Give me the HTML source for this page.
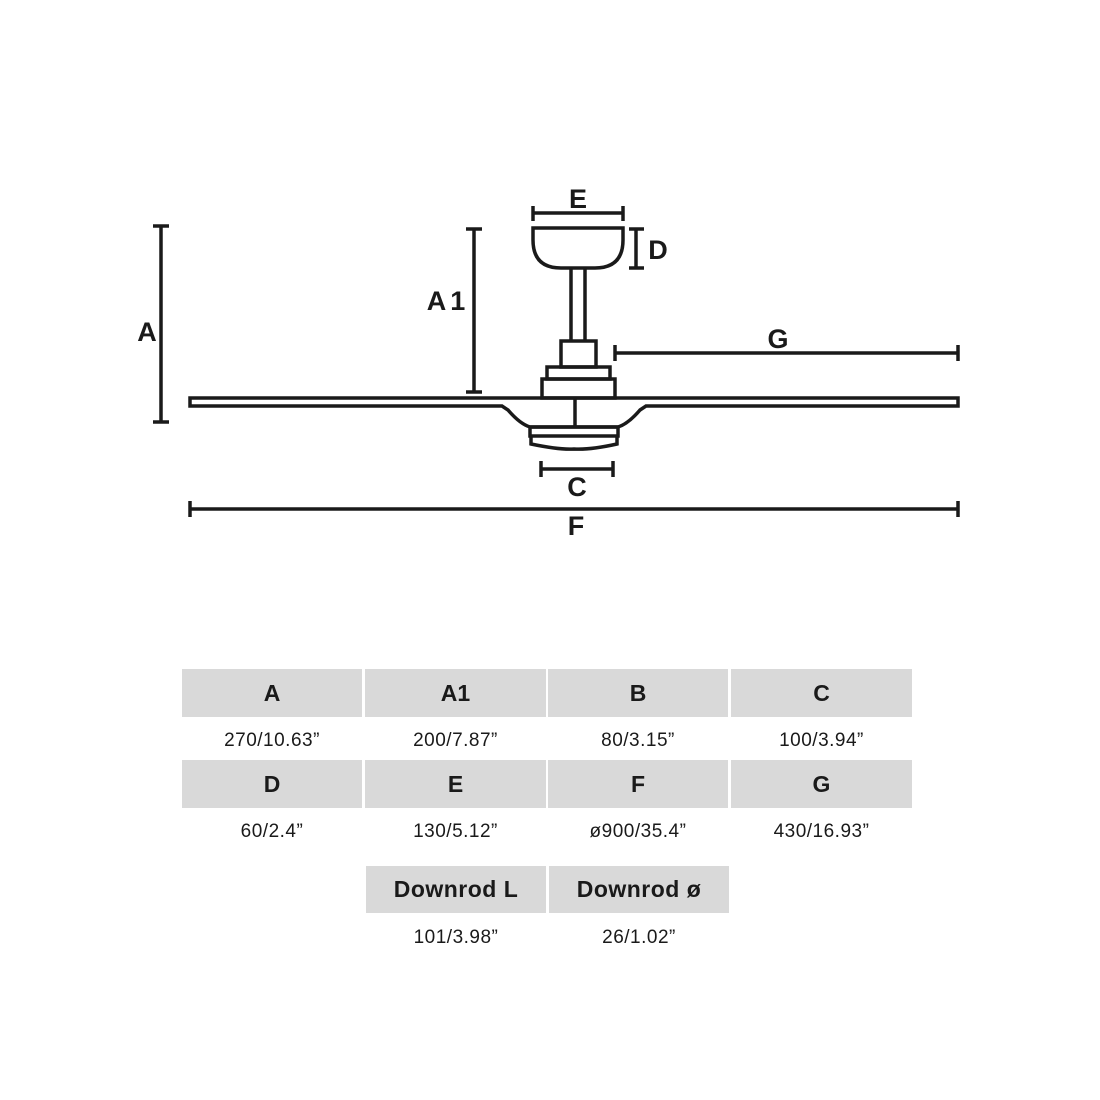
<!DOCTYPE html>
<html><head><meta charset="utf-8"><style>
html,body{margin:0;padding:0;background:#fff;}
body{width:1100px;height:1100px;position:relative;overflow:hidden;font-family:"Liberation Sans",sans-serif;color:#1a1a1a;}
.h{position:absolute;background:#d9d9d9;font-weight:bold;font-size:23px;display:flex;align-items:center;justify-content:center;}
.v{position:absolute;font-size:19px;display:flex;align-items:center;justify-content:center;height:30px;letter-spacing:0.5px;}
svg{position:absolute;left:0;top:0;}
</style></head><body>
<svg width="1100" height="600" viewBox="0 0 1100 600" fill="none" stroke="#1a1a1a" stroke-width="3.5">
<!-- A -->
<line x1="161" y1="226" x2="161" y2="422"/><line x1="153" y1="226" x2="169" y2="226"/><line x1="153" y1="422" x2="169" y2="422"/>
<!-- A1 -->
<line x1="474" y1="229" x2="474" y2="392"/><line x1="466" y1="229" x2="482" y2="229"/><line x1="466" y1="392" x2="482" y2="392"/>
<!-- E -->
<line x1="533" y1="213" x2="623" y2="213"/><line x1="533" y1="206" x2="533" y2="221"/><line x1="623" y1="206" x2="623" y2="221"/>
<!-- D -->
<line x1="636" y1="229" x2="636" y2="268"/><line x1="629" y1="229" x2="644" y2="229"/><line x1="629" y1="268" x2="644" y2="268"/>
<!-- canopy -->
<path d="M533 228 H623 V240 Q623 268 595 268 H561 Q533 268 533 240 Z"/>
<!-- downrod -->
<line x1="571" y1="268" x2="571" y2="341"/><line x1="585" y1="268" x2="585" y2="341"/>
<!-- motor -->
<rect x="561" y="341" width="35" height="26"/>
<rect x="547" y="367" width="63" height="12"/>
<rect x="542" y="379" width="73" height="19"/>
<!-- blade -->
<path d="M190 398 H958 V406 H646 L640 410 Q628 424 618 427 H530 Q520 424 508 410 L502 406 H190 Z"/>
<line x1="575" y1="398" x2="575" y2="427"/>
<!-- light -->
<rect x="530" y="427" width="88" height="9"/>
<path d="M531 436 V444 Q560 450 574 449 Q590 450 617 444 V436"/>
<!-- C -->
<line x1="541" y1="469" x2="613" y2="469"/><line x1="541" y1="461" x2="541" y2="477"/><line x1="613" y1="461" x2="613" y2="477"/>
<!-- G -->
<line x1="615" y1="353" x2="958" y2="353"/><line x1="615" y1="345" x2="615" y2="361"/><line x1="958" y1="345" x2="958" y2="361"/>
<!-- F -->
<line x1="190" y1="509" x2="958" y2="509"/><line x1="190" y1="501" x2="190" y2="517"/><line x1="958" y1="501" x2="958" y2="517"/>
<g fill="#1a1a1a" stroke="none" font-family="Liberation Sans, sans-serif" font-weight="bold" font-size="27" text-anchor="middle">
<text x="147" y="341">A</text>
<text x="448" y="310" letter-spacing="4">A1</text>
<text x="578" y="208">E</text>
<text x="658" y="259">D</text>
<text x="778" y="348">G</text>
<text x="577" y="496">C</text>
<text x="576" y="535">F</text>
</g>
</svg>

<div class="h" style="left:182px;top:669px;width:180px;height:48px">A</div>
<div class="h" style="left:365px;top:669px;width:181px;height:48px">A1</div>
<div class="h" style="left:548px;top:669px;width:180px;height:48px">B</div>
<div class="h" style="left:731px;top:669px;width:181px;height:48px">C</div>
<div class="v" style="left:182px;top:726px;width:180px">270/10.63”</div>
<div class="v" style="left:365px;top:726px;width:181px">200/7.87”</div>
<div class="v" style="left:548px;top:726px;width:180px">80/3.15”</div>
<div class="v" style="left:731px;top:726px;width:181px">100/3.94”</div>

<div class="h" style="left:182px;top:760px;width:180px;height:48px">D</div>
<div class="h" style="left:365px;top:760px;width:181px;height:48px">E</div>
<div class="h" style="left:548px;top:760px;width:180px;height:48px">F</div>
<div class="h" style="left:731px;top:760px;width:181px;height:48px">G</div>
<div class="v" style="left:182px;top:817px;width:180px">60/2.4”</div>
<div class="v" style="left:365px;top:817px;width:181px">130/5.12”</div>
<div class="v" style="left:548px;top:817px;width:180px">ø900/35.4”</div>
<div class="v" style="left:731px;top:817px;width:181px">430/16.93”</div>

<div class="h" style="left:366px;top:866px;width:180px;height:47px;letter-spacing:0.5px">Downrod L</div>
<div class="h" style="left:549px;top:866px;width:180px;height:47px;letter-spacing:0.5px">Downrod ø</div>
<div class="v" style="left:366px;top:923px;width:180px">101/3.98”</div>
<div class="v" style="left:549px;top:923px;width:180px">26/1.02”</div>
</body></html>
